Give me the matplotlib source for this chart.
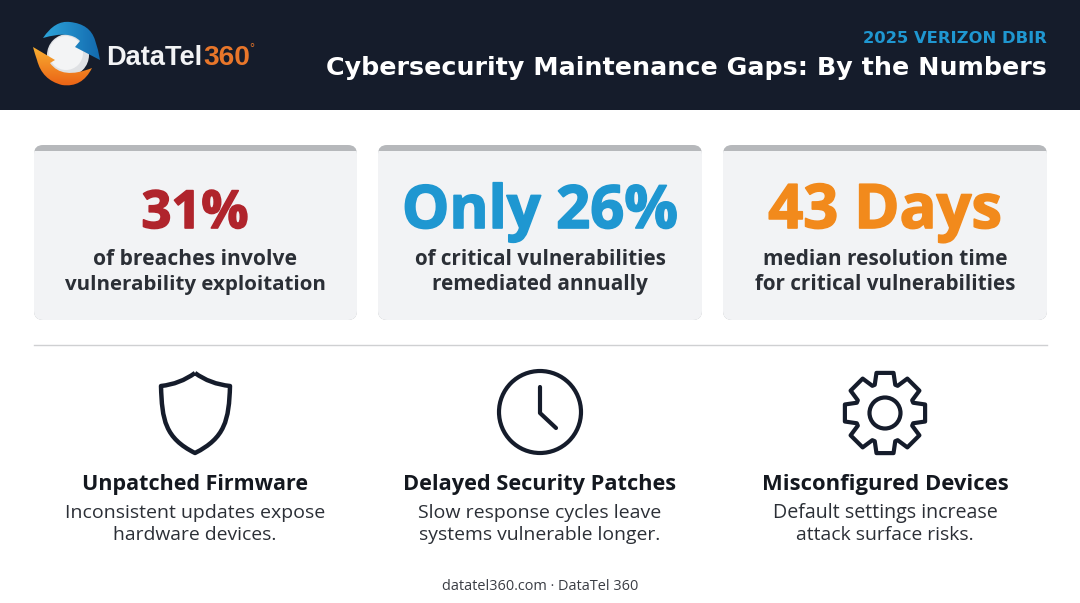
import numpy as np
import matplotlib
matplotlib.use('Agg')
import matplotlib.pyplot as plt
import matplotlib.patheffects as pe
from matplotlib.patches import FancyBboxPatch, Circle, PathPatch, Rectangle
from matplotlib.path import Path

plt.rcParams['font.family'] = ['Open Sans', 'DejaVu Sans']

big_labels = ['31%', 'Only 26%', '43 Days']
big_colors = ['#b0242c', '#1f97d1', '#f28a1c']
card_lines = [['of breaches involve', 'vulnerability exploitation'],
              ['of critical vulnerabilities', 'remediated annually'],
              ['median resolution time', 'for critical vulnerabilities']]
icon_titles = ['Unpatched Firmware', 'Delayed Security Patches', 'Misconfigured Devices']
icon_lines = [['Inconsistent updates expose', 'hardware devices.'],
              ['Slow response cycles leave', 'systems vulnerable longer.'],
              ['Default settings increase', 'attack surface risks.']]
card_left = [34, 378, 723]
centers = [195, 540, 885]

dark = '#151c2b'

fig = plt.figure(figsize=(10.8, 6.03), dpi=100, facecolor='white')
ax = fig.add_axes([0, 0, 1, 1])
ax.set_xlim(0, 1080)
ax.set_ylim(603, 0)
ax.axis('off')


def fit_text(x, y, s, width, size, **kw):
    # shrink or grow the font so the string spans the width seen in the reference
    t = ax.text(x, y, s, fontsize=size, va='baseline', **kw)
    fig.canvas.draw()
    w = t.get_window_extent().width
    t.set_fontsize(size * width / w)
    return t


def gradient_shape(verts, codes, c0, c1, box, horizontal=True):
    # fill a path with a two colour gradient, image clipped to the path
    cmap = matplotlib.colors.LinearSegmentedColormap.from_list('g', [c0, c1])
    g = np.linspace(0, 1, 64)
    g = g[None, :] if horizontal else g[:, None]
    im = ax.imshow(g, extent=box, cmap=cmap, aspect='auto', zorder=3)
    patch = PathPatch(Path(verts, codes), fc='none', ec='none', transform=ax.transData)
    ax.add_patch(patch)
    im.set_clip_path(patch)


# header
ax.add_patch(Rectangle((0, 0), 1080, 110, color=dark, lw=0))
fit_text(1047, 43, '2025 VERIZON DBIR', 183, 12, color='#1f97d1', ha='right', weight='bold', family='DejaVu Sans')
fit_text(1047, 75, 'Cybersecurity Maintenance Gaps: By the Numbers', 721, 20, color='white', ha='right',
         weight='bold', family='DejaVu Sans')

# logo
ax.add_patch(Circle((68, 55), 21, color='#dfe1e4', lw=0, zorder=2))
ax.add_patch(Circle((66, 53), 17, color='#f3f4f5', lw=0, zorder=2))
C3 = Path.CURVE3
blue = [(43, 38), (55, 20), (70, 22), (90, 24), (95, 40), (98, 50), (100, 60), (75, 47), (80, 41),
        (70, 30), (43, 38)]
blue_c = [Path.MOVETO, C3, C3, C3, C3, Path.LINETO, Path.LINETO, Path.LINETO, Path.LINETO, C3, C3]
gradient_shape(blue, blue_c, '#2fa8dd', '#1268ad', (40, 102, 62, 20))
orange = [(92, 68), (82, 88), (62, 85), (42, 80), (37, 60), (35, 54), (33, 47), (55, 60), (50, 63),
          (62, 80), (92, 68)]
orange_c = [Path.MOVETO, C3, C3, C3, C3, Path.LINETO, Path.LINETO, Path.LINETO, Path.LINETO, C3, C3]
gradient_shape(orange, orange_c, '#f9b233', '#ea5f14', (32, 94, 88, 45), horizontal=False)
ax.set_xlim(0, 1080)
ax.set_ylim(603, 0)

fit_text(106, 65, 'DataTel', 96, 19, color='#f2f3f5', ha='left', weight='bold', family='Liberation Sans')
fit_text(203, 65, '360', 47, 19, color='#e8762a', ha='left', weight='bold', family='Liberation Sans')
ax.text(249, 52, '°', color='#e8762a', fontsize=9, ha='left', va='baseline', family='Liberation Sans')

# cards
for i, x in enumerate(card_left):
    w = 324 if i != 0 else 323
    ax.add_patch(FancyBboxPatch((x, 145), w, 175, boxstyle='round,pad=0,rounding_size=9',
                                fc='#b6b8bb', ec='none'))
    clip = Rectangle((x, 151), w, 169, transform=ax.transData)
    p = FancyBboxPatch((x, 145), w, 175, boxstyle='round,pad=0,rounding_size=9',
                       fc='#f2f3f5', ec='none')
    ax.add_patch(p)
    p.set_clip_path(clip)
    c = centers[i]
    t = fit_text(c, 228, big_labels[i], [107, 276, 234][i], 44, color=big_colors[i], ha='center', weight='bold')
    t.set_path_effects([pe.withStroke(linewidth=1.2, foreground=big_colors[i])])
    widths = [[203, 261], [251, 217], [245, 260]][i]
    for j, s in enumerate(card_lines[i]):
        fit_text(c, 265 + 25 * j, s, widths[j], 15, color='#2b2f36', ha='center', weight='bold')

ax.plot([34, 1047], [345, 345], color='#cfd0d2', lw=1)

# shield
verts = [(195, 373), (180, 384), (161, 386), (162, 420), (165, 438), (195, 453),
         (225, 438), (229, 420), (230, 386), (210, 384), (195, 373)]
codes = [Path.MOVETO, C3, C3, Path.CURVE4, Path.CURVE4, Path.CURVE4,
         Path.CURVE4, Path.CURVE4, Path.CURVE4, C3, C3]
ax.add_patch(PathPatch(Path(verts, codes), fc='none', ec=dark, lw=3.2, joinstyle='round'))

# clock
ax.add_patch(Circle((540, 412), 41, fc='none', ec=dark, lw=3))
ax.plot([540, 540, 556], [387, 413, 428], color=dark, lw=3, solid_capstyle='round', solid_joinstyle='round')

# gear
n = 8
ang = []
rad = []
for k in range(n):
    base = 360 / n * k - 90
    ang += [base - 20, base - 12, base + 12, base + 20]
    rad += [30, 41, 41, 30]
ang = np.radians(ang + ang[:1])
rad = np.array(rad + rad[:1])
gear_xy = np.c_[885 + rad * np.cos(ang), 413 + rad * np.sin(ang)]
ax.add_patch(PathPatch(Path(gear_xy, closed=True), fc='none', ec=dark, lw=3, joinstyle='round'))
ax.add_patch(Circle((885, 413), 15.5, fc='none', ec=dark, lw=3))

# lower captions
title_w = [227, 273, 245]
line_w = [[258, 162], [241, 241], [224, 177]]
for i, c in enumerate(centers):
    fit_text(c, 490, icon_titles[i], title_w[i], 15, color='#14181f', ha='center', weight='bold')
    for j, s in enumerate(icon_lines[i]):
        fit_text(c, 518 + 22 * j, s, line_w[i][j], 13, color='#2b2f36', ha='center')

fit_text(540, 590, 'datatel360.com · DataTel 360', 196, 10, color='#3a3d44', ha='center')

fig.savefig('out.png', dpi=100)
